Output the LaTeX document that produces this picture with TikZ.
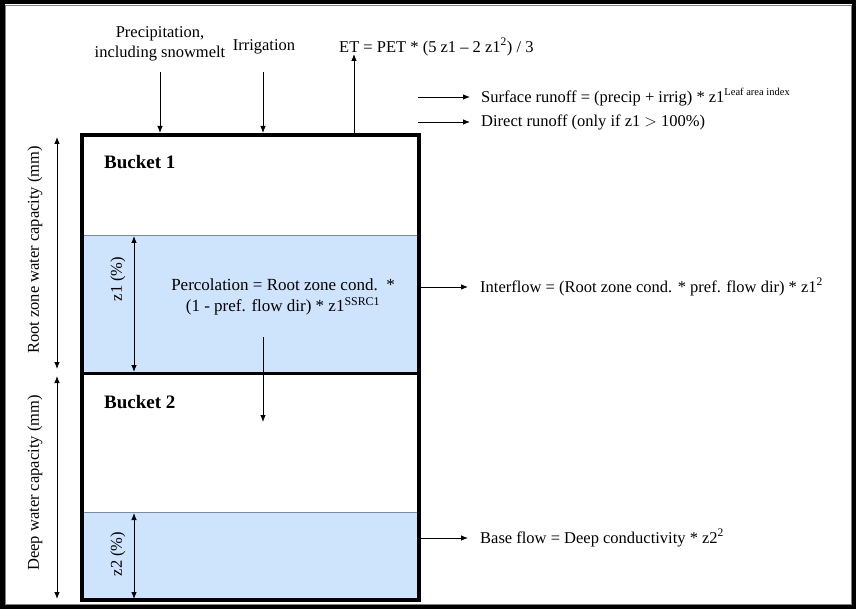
\documentclass[tikz,border=0pt]{standalone}
\usepackage{fontspec}
\setmainfont{Liberation Serif}
\usetikzlibrary{arrows.meta}
\definecolor{water}{RGB}{206,228,252}
\definecolor{waterline}{RGB}{120,138,165}
\begin{document}
\begin{tikzpicture}[x=1pt,y=-1pt,
  tip/.tip={Latex[length=7pt,width=5.5pt]},
  flow/.style={line width=0.8pt,-tip},
  dimarrow/.style={line width=0.8pt,tip-tip},
  lbl/.style={font=\fontsize{16.5}{20}\selectfont, inner sep=0pt},
  lblw/.style={lbl, anchor=west},
  bucketlbl/.style={font=\fontsize{19}{21}\selectfont\bfseries, inner sep=0pt, anchor=west},
  vlbl/.style={lbl, rotate=90},
  waterbox/.style={fill=water, draw=waterline, line width=0.8pt},
  bucketline/.style={line width=3.5pt, line cap=rect}]
\useasboundingbox (0,0) rectangle (856,609);
\fill[white] (0,0) rectangle (856,609);
\draw[gray, line width=1pt] (5,5.5) rectangle (851.5,604);
\draw[line width=4.5pt] (2.25,2.25) rectangle (853.75,606.75);

% water levels
\filldraw[waterbox] (82,235) rectangle (419,373);
\filldraw[waterbox] (82,512) rectangle (419,600);
% bucket outline and divider
\draw[line width=3pt] (82,373) -- (419,373);
\draw[bucketline] (82,135) rectangle (419,600);

% bucket labels
\node[bucketlbl] (b1) at (104,162) {Bucket 1};
\node[bucketlbl] (b2) at (104,402) {Bucket 2};

% inputs at top
\node[lbl, align=center] (precip) at (160,44) {Precipitation,\\including snowmelt};
\node[lbl] (irr) at (264,47) {Irrigation};
\node[lblw] (et) at (339,47) {ET = PET * (5 z1 -- 2 z1\textsuperscript{2}) / 3};
\coordinate (precipTop) at (160,72);
\coordinate (precipIn) at (160,133);
\coordinate (irrTop) at (263,72);
\coordinate (irrIn) at (263,133);
\coordinate (etOut) at (354,133);
\coordinate (etTop) at (354,54);
\draw[flow] (precipTop) -- (precipIn);
\draw[flow] (irrTop) -- (irrIn);
\draw[flow] (etOut) -- (etTop);

% runoff
\coordinate (sr0) at (418,97);  \coordinate (sr1) at (470,97);
\coordinate (dr0) at (418,122); \coordinate (dr1) at (470,122);
\node[lblw] (sr) at (481,97) {Surface runoff = (precip + irrig) * z1\textsuperscript{\fontsize{10.5}{11}\selectfont Leaf area index}};
\node[lblw] (dr) at (481,122) {Direct runoff (only if z1 {\fontfamily{}\selectfont >} 100\%)};
\draw[flow] (sr0) -- (sr1);
\draw[flow] (dr0) -- (dr1);

% interflow
\coordinate (if0) at (421,287); \coordinate (if1) at (468,287);
\node[lblw] (if) at (480,287) {Interflow = (Root zone cond. * pref. flow dir) * z1\textsuperscript{2}};
\draw[flow] (if0) -- (if1);

% base flow
\coordinate (bf0) at (421,538); \coordinate (bf1) at (468,538);
\node[lblw] (bf) at (480,538) {Base flow = Deep conductivity * z2\textsuperscript{2}};
\draw[flow] (bf0) -- (bf1);

% percolation
\node[lbl, align=center, font=\fontsize{17}{21}\selectfont] (perc) at (283,297) {Percolation = Root zone cond.\ \ *\\(1 - pref. flow dir) * z1\textsuperscript{SSRC1}};
\coordinate (pc0) at (263,337); \coordinate (pc1) at (263,422);
\draw[flow] (pc0) -- (pc1);

% z1, z2
\coordinate (z1a) at (134,236); \coordinate (z1b) at (134,372);
\coordinate (z2a) at (134,513); \coordinate (z2b) at (134,599);
\draw[dimarrow] (z1a) -- (z1b);
\draw[dimarrow] (z2a) -- (z2b);
\node[vlbl] (z1l) at (118,279) {z1 (\%)};
\node[vlbl] (z2l) at (118,554) {z2 (\%)};

% capacities
\coordinate (rc0) at (57,137); \coordinate (rc1) at (57,369);
\coordinate (dc0) at (57,376); \coordinate (dc1) at (57,599);
\draw[dimarrow] (rc0) -- (rc1);
\draw[dimarrow] (dc0) -- (dc1);
\node[vlbl] (rcl) at (35,250) {Root zone water capacity (mm)};
\node[vlbl] (dcl) at (35,483) {Deep water capacity (mm)};
\end{tikzpicture}
\end{document}
